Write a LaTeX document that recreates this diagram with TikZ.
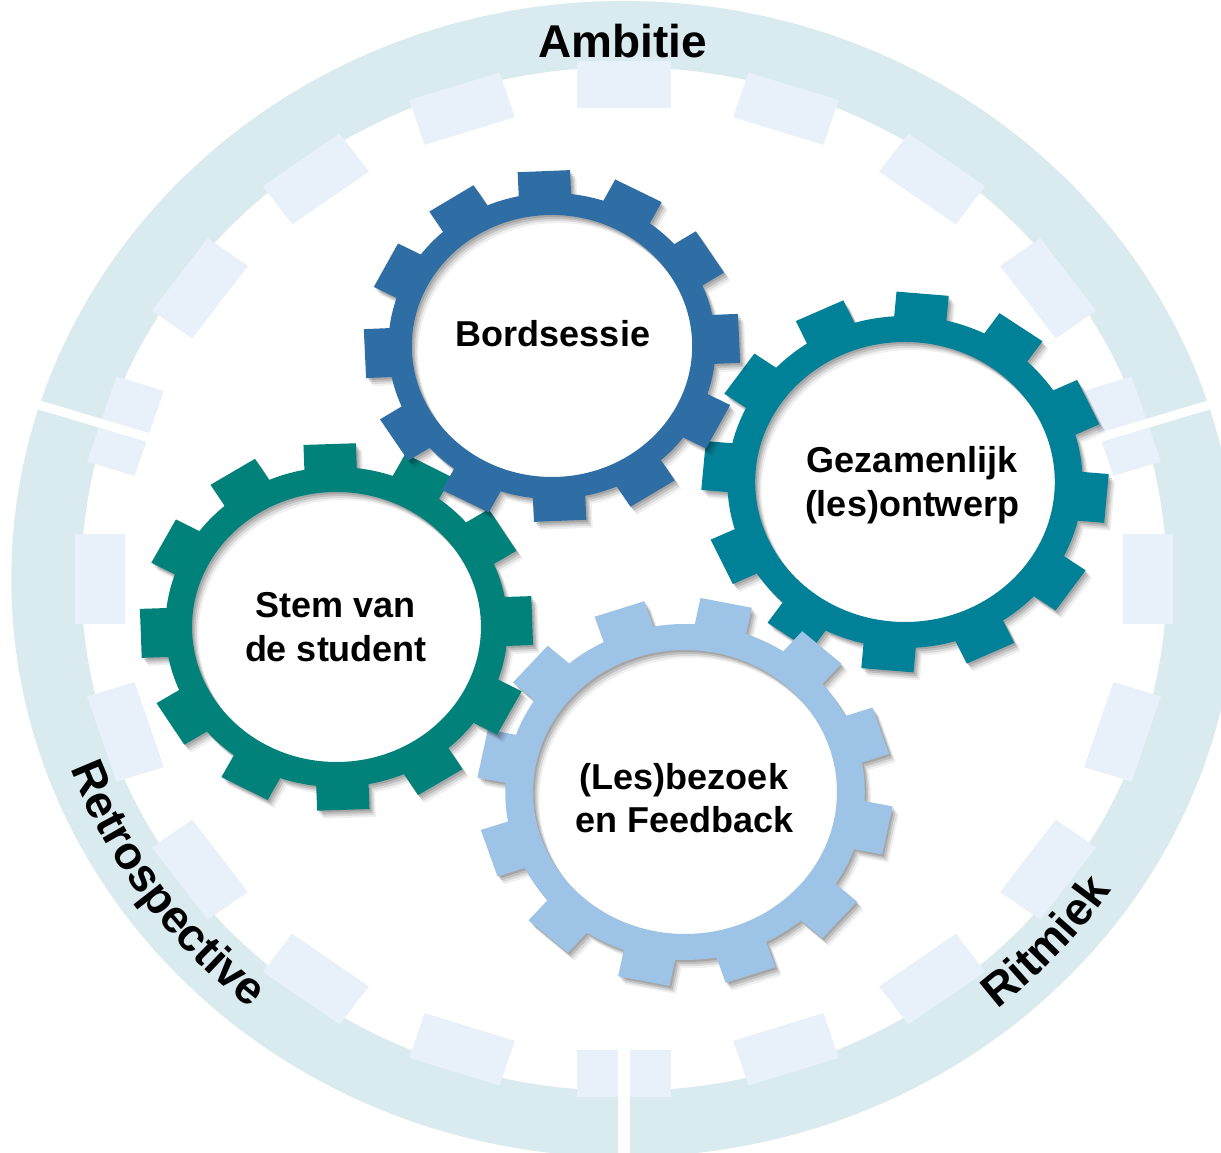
\documentclass[tikz,border=0pt]{standalone}
\usepackage{fontspec}
\setmainfont{Liberation Sans}
\usetikzlibrary{decorations.text}
\definecolor{ringc}{RGB}{218,235,240}
\definecolor{dashc}{RGB}{232,241,249}
\definecolor{gearA}{RGB}{47,110,165}
\definecolor{gearB}{RGB}{0,129,152}
\definecolor{gearC}{RGB}{0,130,123}
\definecolor{gearD}{RGB}{157,195,230}
\newcommand\labfont{\bfseries\fontsize{46}{50}\selectfont}
\newcommand\gearfont{\bfseries\fontsize{36}{44}\selectfont}
\newcommand\gearpath[3]{({#1-\gab}:#3) \foreach \k in {0,...,11}{ -- ({#1+30*\k-\gat}:\grc) -- ({#1+30*\k+\gat}:\grc) -- ({#1+30*\k+\gab}:#3) arc[start angle={#1+30*\k+\gab}, end angle={#1+30*\k+30-\gab}, radius=#3] } -- cycle (0,0) circle[radius=#2]}
\newcommand\drawgear[7]{%
  \pgfmathsetmacro\gab{asin(24.5/#5)}%
  \pgfmathsetmacro\gat{atan(24.5/#6)}%
  \pgfmathsetmacro\grc{#6/cos(\gat)}%
  \begin{scope}[shift={(#1,{1153-#2})}, xscale=1.07]
    \foreach \dx/\dy/\op in {1.5/-2/0.13, 3/-4/0.12, 4.5/-6/0.09, 6/-8/0.06}{
      \fill[black, opacity=\op, even odd rule, shift={(\dx,\dy)}] \gearpath{#3}{#4}{#5};
    }
    \fill[#7, even odd rule] \gearpath{#3}{#4}{#5};
  \end{scope}}
\tikzset{
  ringlabel/.style={font=\labfont, inner sep=0pt},
  gearlabel/.style={font=\gearfont, inner sep=0pt, anchor=base},
}
\begin{document}
\begin{tikzpicture}[x=1pt,y=1pt]
  \useasboundingbox (0,0) rectangle (1221,1153);
  \fill[white] (0,0) rectangle (1221,1153);
  \clip (0,0) rectangle (1221,1153);
  % outer ring
  \begin{scope}[shift={(624,574)}, xscale=1.06]
    \fill[ringc, even odd rule] (0,0) circle[radius=578] (0,0) circle[radius=512];
    \foreach \a in {0,18,...,342}{\fill[dashc, rotate=\a] (471,-44.75) rectangle (518,44.75);}
    \fill[white, rotate=17.5] (455,-4.5) rectangle (620,4.5);
    \fill[white, rotate=162.5] (455,-4.5) rectangle (620,4.5);
    \fill[white, rotate=270] (455,-6) rectangle (620,6);
  \end{scope}
  % ring labels
  \node[ringlabel, anchor=base] (amb) at (623,1095) {Ambitie};
  \path[decorate, decoration={text along path, text={|\labfont|Retrospective}, text align=center}]
    ([shift={(624,574)}]185:589 and 556) arc[start angle=185, end angle=245, x radius=589, y radius=556];
  \path[decorate, decoration={text along path, text={|\labfont|Ritmiek}, text align=center}]
    ([shift={(624,574)}]288:589 and 556) arc[start angle=288, end angle=348, x radius=589, y radius=556];
  % gears
  \drawgear{905}{482}{-5}{140}{166}{189}{gearB}
  \drawgear{685}{792}{18.5}{142}{168}{193}{gearD}
  \drawgear{336.5}{627}{2}{135}{160}{183}{gearC}
  \drawgear{552}{346}{2.5}{131}{153}{175}{gearA}
  % gear labels
  \node[gearlabel] (bord) at (553,806) {Bordsessie};
  \node[gearlabel] (gez1) at (912,680) {Gezamenlijk};
  \node[gearlabel] (gez2) at (912,636) {(les)ontwerp};
  \node[gearlabel] (stem1) at (336,535) {Stem van};
  \node[gearlabel] (stem2) at (336,491) {de student};
  \node[gearlabel] (bez1) at (684,363) {(Les)bezoek};
  \node[gearlabel] (bez2) at (685,320) {en Feedback};
\end{tikzpicture}
\end{document}
